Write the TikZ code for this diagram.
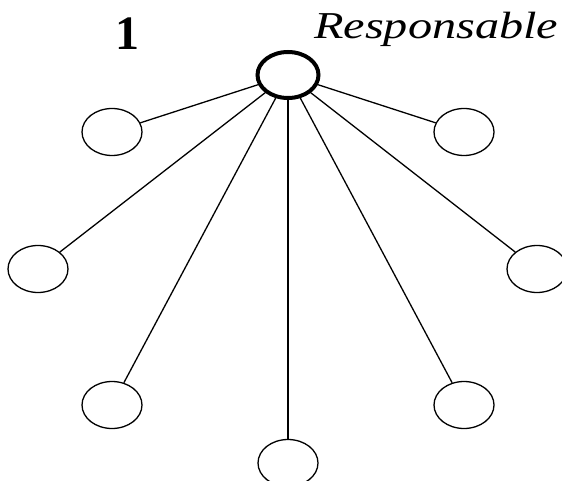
\documentclass[tikz,border=0pt]{standalone}
\usepackage{fontspec}
\setmainfont{Liberation Serif}
\usetikzlibrary{shapes.geometric}
\begin{document}
\begin{tikzpicture}[x=1pt,y=-1pt,
  member/.style={ellipse, draw, line width=1.3pt, minimum width=60pt, minimum height=47pt, inner sep=0pt},
  leader/.style={ellipse, draw, line width=4pt, minimum width=61pt, minimum height=46pt, inner sep=0pt},
  tie/.style={line width=1.3pt}]
\useasboundingbox (0,0) rectangle (562,481);
\node[leader] (resp) at (288,75){};
\node[member] (mem1) at (112,132){};
\node[member] (mem2) at (38,269){};
\node[member] (mem3) at (112,405){};
\node[member] (mem4) at (288,463){};
\node[member] (mem5) at (464,405){};
\node[member] (mem6) at (537,269){};
\node[member] (mem7) at (464,132){};
\draw[tie](resp) -- (mem1);
\draw[tie](resp) -- (mem2);
\draw[tie](resp) -- (mem3);
\draw[tie](resp) -- (mem4);
\draw[tie](resp) -- (mem5);
\draw[tie](resp) -- (mem6);
\draw[tie](resp) -- (mem7);
\node (num) at (127,34){\fontsize{48}{48}\selectfont\bfseries 1};
\node[anchor=west, inner sep=0pt] (role) at (314,29){\scalebox{1.27}[1]{\fontsize{38}{38}\selectfont\itshape Responsable}};
\end{tikzpicture}
\end{document}
